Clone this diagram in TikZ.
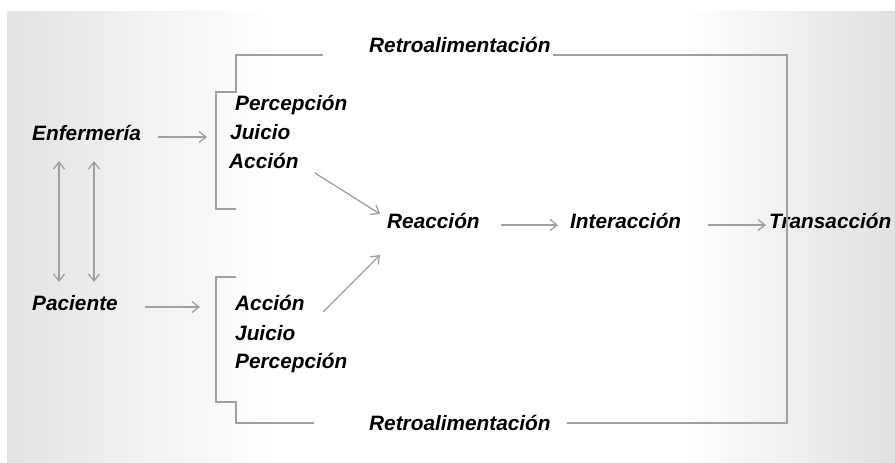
\documentclass[tikz,border=0pt]{standalone}
\usepackage{fontspec}
\setmainfont{Liberation Sans}
\usetikzlibrary{arrows.meta}
\pgfdeclarehorizontalshading{slidebg}{100bp}{color(0bp)=(black!11); color(25bp)=(black!11); color(40bp)=(white); color(63bp)=(white); color(75bp)=(black!12); color(100bp)=(black!12)}
\definecolor{linegray}{HTML}{A0A0A0}
\begin{document}
\begin{tikzpicture}[x=1pt,y=-1pt,
  lbl/.style={font=\fontsize{20.8}{24}\selectfont\bfseries\itshape, inner sep=0pt, anchor=base west},
  conn/.style={draw=linegray, line width=1.3pt},
  arr/.style={conn, -{Straight Barb[length=7pt,width=11pt]}},
  dbl/.style={conn, {Straight Barb[length=7pt,width=11pt]}-{Straight Barb[length=7pt,width=11pt]}}]
\useasboundingbox (0,0) rectangle (895,463);
\shade[shading=slidebg] (7,11) rectangle (895,463);

% text nodes
\node[lbl] (enf) at (32,140) {Enfermería};
\node[lbl] (pac) at (32,310) {Paciente};
\node[lbl] (p1) at (235,110) {Percepción};
\node[lbl] (j1) at (230,139) {Juicio};
\node[lbl] (a1) at (229,168) {Acción};
\node[lbl] (a2) at (235,310) {Acción};
\node[lbl] (j2) at (235,340) {Juicio};
\node[lbl] (p2) at (235,368) {Percepción};
\node[lbl] (rea) at (387,228) {Reacción};
\node[lbl] (int) at (570,228) {Interacción};
\node[lbl] (tra) at (769,228) {Transacción};
\node[lbl] (rt) at (369,52) {Retroalimentación};
\node[lbl] (rb) at (369,430) {Retroalimentación};

% connector end points
\coordinate (ea) at (158,137); \coordinate (eb) at (207,137);
\coordinate (pa) at (145,307); \coordinate (pb) at (200,307);
\coordinate (va1) at (59,161); \coordinate (vb1) at (59,282);
\coordinate (va2) at (94,161); \coordinate (vb2) at (94,282);
\coordinate (aa) at (315,173); \coordinate (ab) at (380,214);
\coordinate (ba) at (323,312); \coordinate (bb) at (380,255);
\coordinate (ra) at (501,225); \coordinate (rb2) at (558,225);
\coordinate (ia) at (708,225); \coordinate (ib) at (766,225);

% feedback loop
\coordinate (ft1) at (553,55); \coordinate (ftc) at (787,55);
\coordinate (fbc) at (787,423); \coordinate (fb1) at (567,423);
\draw[conn] (ft1) -- (ftc) -- (fbc) -- (fb1);

% brackets
\coordinate (bt0) at (323,55); \coordinate (bt1) at (236,55);
\coordinate (bt2) at (236,92); \coordinate (bt3) at (216,92);
\coordinate (bt4) at (216,209); \coordinate (bt5) at (236,209);
\draw[conn] (bt0) -- (bt1) -- (bt2) -- (bt3) -- (bt4) -- (bt5);
\coordinate (bb0) at (236,277); \coordinate (bb1) at (216,277);
\coordinate (bb2) at (216,402); \coordinate (bb3) at (236,402);
\coordinate (bb4) at (236,423); \coordinate (bb5) at (314,423);
\draw[conn] (bb0) -- (bb1) -- (bb2) -- (bb3) -- (bb4) -- (bb5);

% arrows
\draw[arr] (ea) -- (eb);
\draw[arr] (pa) -- (pb);
\draw[dbl] (va1) -- (vb1);
\draw[dbl] (va2) -- (vb2);
\draw[arr] (aa) -- (ab);
\draw[arr] (ba) -- (bb);
\draw[arr] (ra) -- (rb2);
\draw[arr] (ia) -- (ib);
\end{tikzpicture}
\end{document}
